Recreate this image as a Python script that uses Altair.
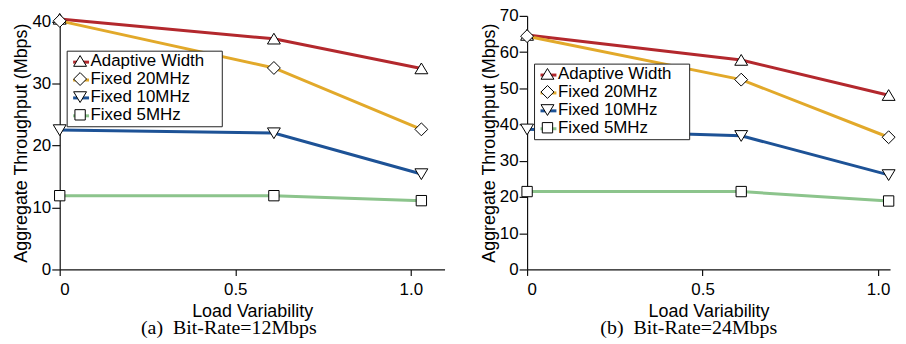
import altair as alt
import pandas as pd

# ---- data ----
x_vals = [0, 0.61, 1.03]
series = ["Adaptive Width", "Fixed 20MHz", "Fixed 10MHz", "Fixed 5MHz"]

a_adaptive = [40.4, 37.2, 32.4]
a_f20 = [40.1, 32.5, 22.6]
a_f10 = [22.5, 22.0, 15.4]
a_f5 = [11.9, 11.9, 11.1]

b_adaptive = [64.7, 57.8, 48.1]
b_f20 = [64.4, 52.4, 36.5]
b_f10 = [38.7, 36.9, 26.1]
b_f5 = [21.5, 21.5, 18.9]

x_ticks = [0, 0.5, 1.0]
y_ticks_a = [0, 10, 20, 30, 40]
y_ticks_b = [0, 10, 20, 30, 40, 50, 60, 70]

captions = ["(a)\u2002Bit-Rate=12Mbps", "(b)\u2002Bit-Rate=24Mbps"]

colors = ["#b3282d", "#e2a92a", "#1d5296", "#8cc48c"]
tri_up = "M0,-0.7L0.81,0.65L-0.81,0.65Z"
diamond = "M0,-0.81L0.81,0L0,0.81L-0.81,0Z"
tri_down = "M0,0.7L0.81,-0.65L-0.81,-0.65Z"
square = "M-0.65,-0.65H0.65V0.65H-0.65Z"
shapes = [tri_up, diamond, tri_down, square]

# keys of the colour legend (kept distinct from the shape legend's, so the two stay apart)
color_keys = [s + "\u00a0" for s in series]


def make_df(vals_list):
    rows = []
    for name, key, vals in zip(series, color_keys, vals_list):
        for xv, yv in zip(x_vals, vals):
            rows.append({"load": xv, "thr": yv, "series": name, "ckey": key})
    return pd.DataFrame(rows)


def panel(df, ymax, yticks, caption, leg_y, xmax):
    base = alt.Chart(df)
    x = alt.X(
        "load:Q",
        scale=alt.Scale(domain=[0, xmax], nice=False, zero=False),
        axis=alt.Axis(
            values=x_ticks,
            title="Load Variability",
            labelExpr="datum.value == 0 ? '0' : format(datum.value, '.1f')",
            tickSize=6,
            labelPadding=6,
            titlePadding=5,
        ),
    )
    y = alt.Y(
        "thr:Q",
        scale=alt.Scale(domain=[0, ymax], nice=False),
        axis=alt.Axis(
            values=yticks,
            title="Aggregate Throughput (Mbps)",
            tickSize=8,
            labelPadding=1,
            titlePadding=1,
        ),
    )
    lines = base.mark_line(strokeWidth=3).encode(
        x=x,
        y=y,
        color=alt.Color(
            "ckey:N",
            sort=color_keys,
            scale=alt.Scale(domain=color_keys, range=colors),
            legend=alt.Legend(
                title=None,
                orient="none",
                legendX=7,
                legendY=leg_y,
                symbolType="stroke",
                symbolSize=256,
                symbolStrokeWidth=3,
                labelFontSize=17,
                labelFont="Liberation Sans",
                labelColor="white",
                labelExpr="datum.label + 'x'",
                fillColor="white",
                strokeColor="#222222",
                padding=2,
                symbolOffset=3,
                rowPadding=0,
                labelOffset=2,
                zindex=1,
            ),
        ),
    )
    points = base.mark_point(
        filled=True, fill="white", stroke="black", strokeWidth=1, size=256, opacity=1
    ).encode(
        x=x,
        y=y,
        shape=alt.Shape(
            "series:N",
            sort=series,
            scale=alt.Scale(domain=series, range=shapes),
            legend=alt.Legend(
                title=None,
                orient="none",
                legendX=7,
                legendY=leg_y,
                symbolSize=256,
                symbolStrokeWidth=1,
                labelFontSize=17,
                labelFont="Liberation Sans",
                labelColor="black",
                padding=2,
                symbolOffset=3,
                rowPadding=0,
                labelOffset=2,
                zindex=2,
            ),
        ),
    )
    return (
        alt.layer(lines, points)
        .resolve_legend(color="independent", shape="independent")
        .resolve_scale(color="independent", shape="independent")
        .properties(
            width=int(round(353 * xmax)),
            height=255,
            title=alt.TitleParams(
                text=caption,
                orient="bottom",
                frame="bounds",
                anchor="middle",
                offset=-2,
                font="Liberation Serif",
                fontSize=20,
                fontWeight="normal",
                color="black",
            ),
        )
    )


df_a = make_df([a_adaptive, a_f20, a_f10, a_f5])
df_b = make_df([b_adaptive, b_f20, b_f10, b_f5])

left = panel(df_a, 40.9, y_ticks_a, captions[0], 35, 1.096)
right = panel(df_b, 70, y_ticks_b, captions[1], 48, 1.034)

chart = (
    alt.hconcat(left, right, spacing=36)
    .resolve_scale(color="independent", shape="independent")
    .properties(padding={"left": 5, "top": -2, "right": 0, "bottom": 0})
    .configure_axis(
        labelFont="Liberation Sans",
        titleFont="Liberation Sans",
        labelFontSize=17,
        titleFontSize=18,
        titleFontWeight="normal",
        labelColor="black",
        titleColor="black",
        domainColor="#111111",
        tickColor="#111111",
        domainWidth=1.2,
        tickWidth=1.2,
        grid=False,
    )
    .configure_view(stroke=None)
)

chart.save("out.html", embed_options={"renderer": "svg", "actions": False})
